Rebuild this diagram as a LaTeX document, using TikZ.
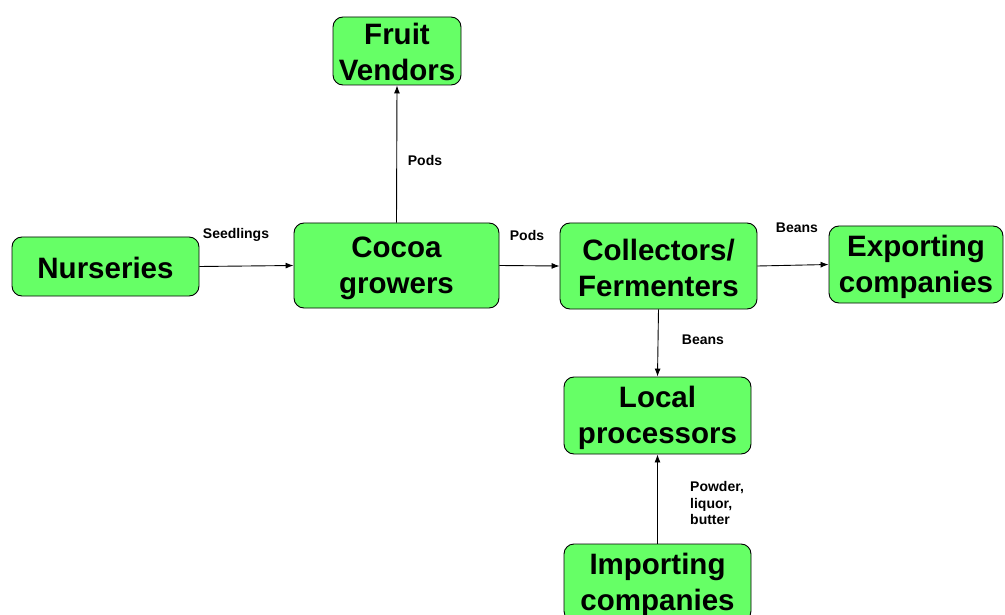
\documentclass[tikz,border=0pt]{standalone}
\usepackage{fontspec}
\setmainfont{Liberation Sans}
\usetikzlibrary{arrows.meta}
\newcommand{\topst}{\rule{0pt}{27pt}}
\newcommand{\botst}{\rule[-3pt]{0pt}{3pt}}
\begin{document}
\begin{tikzpicture}[x=1pt,y=-1pt,
  box/.style={draw=black,line width=0.9pt,fill=boxgreen,rounded corners=10pt,
    align=center,inner sep=0pt,font=\bfseries\fontsize{29.5}{36}\selectfont},
  lbl/.style={font=\bfseries\fontsize{14}{16.5}\selectfont,inner sep=0pt},
  flow/.style={draw=black,line width=0.9pt,-{Latex[length=8pt,width=6pt]}}]
\definecolor{boxgreen}{HTML}{66FF66}
\useasboundingbox (0,0) rectangle (1005,615);
\node[box,minimum width=187pt,minimum height=59pt] (nur) at (105.5,266.5) {\topst Nurseries\botst};
\node[box,minimum width=205pt,minimum height=85pt] (coc) at (396.5,265.5) {\topst Cocoa\\growers\botst};
\node[box,minimum width=128pt,minimum height=68pt] (fru) at (397,51) {\topst Fruit\\Vendors\botst};
\node[box,minimum width=197pt,minimum height=86pt] (col) at (658.5,266) {\topst Collectors/\\Fermenters\botst};
\node[box,minimum width=174pt,minimum height=77pt] (exp) at (916,264.5) {\topst Exporting\\companies\botst};
\node[box,minimum width=187pt,minimum height=77pt] (loc) at (657.5,415.5) {\topst Local\\processors\botst};
\node[box,minimum width=187pt,minimum height=77pt] (imp) at (657.5,582.5) {\topst Importing\\companies\botst};
\draw[flow] (nur.east) -- (coc.west);
\draw[flow] (coc.north) -- (fru.south);
\draw[flow] (coc.east) -- (col.west);
\draw[flow] (col.east) -- (exp.west);
\draw[flow] (col.south) -- (loc.north);
\draw[flow] (imp.north) -- (loc.south);
\node[lbl] (l1) at (236,235) {Seedlings};
\node[lbl] (l2) at (425,160) {Pods};
\node[lbl] (l3) at (527,235) {Pods};
\node[lbl] (l4) at (797,228) {Beans};
\node[lbl] (l5) at (703,340) {Beans};
\node[lbl,align=left,anchor=west] (l6) at (690,503) {Powder,\\liquor,\\butter};
\end{tikzpicture}
\end{document}
